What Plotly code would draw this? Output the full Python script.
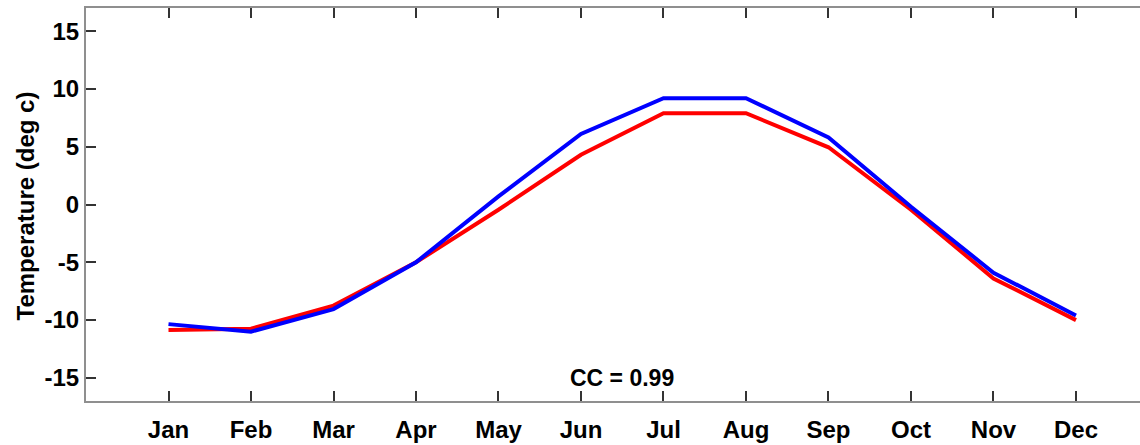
import plotly.graph_objects as go

# Monthly mean temperature, two series (deg C)
months = ["Jan", "Feb", "Mar", "Apr", "May", "Jun",
          "Jul", "Aug", "Sep", "Oct", "Nov", "Dec"]
series_red = [-10.85, -10.75, -8.75, -5.0, -0.45, 4.3,
              7.9, 7.9, 4.95, -0.45, -6.4, -10.0]
series_blue = [-10.35, -11.0, -9.05, -5.0, 0.7, 6.1,
               9.2, 9.2, 5.8, -0.2, -5.9, -9.6]
y_ticks = [-15, -10, -5, 0, 5, 10, 15]
cc_label = "CC = 0.99"

month_pos = list(range(1, len(months) + 1))
FONT = "Liberation Sans, Arial, Helvetica, sans-serif"
FS = 24

fig = go.Figure()
fig.add_trace(go.Scatter(x=month_pos, y=series_red, mode="lines",
                         line=dict(color="#ff0000", width=4),
                         showlegend=False))
fig.add_trace(go.Scatter(x=month_pos, y=series_blue, mode="lines",
                         line=dict(color="#0000ff", width=4),
                         showlegend=False))

fig.add_annotation(x=6.5, y=-15, xref="x", yref="y", text=f"<b>{cc_label}</b>",
                   showarrow=False, xanchor="center", yanchor="middle",
                   font=dict(family=FONT, size=FS - 1, color="black"))

fig.add_annotation(x=0, y=0.5, xref="paper", yref="paper",
                   text="<b>Temperature (deg c)</b>", textangle=-90,
                   showarrow=False, xanchor="center", yanchor="middle",
                   xshift=-61, yshift=-2,
                   font=dict(family=FONT, size=FS, color="black"))

fig.update_xaxes(
    range=[0, 12.776],
    tickmode="array", tickvals=month_pos,
    ticktext=[f"<b>{m}</b>" for m in months],
    ticks="inside", ticklen=10, tickwidth=1.5, tickcolor="#333333",
    showline=True, linecolor="#8f8f8f", linewidth=2, mirror="ticks",
    showgrid=False, zeroline=False,
    tickfont=dict(family=FONT, size=FS, color="black"),
    ticklabelstandoff=6,
)
fig.update_yaxes(
    range=[-17, 17],
    tickmode="array", tickvals=y_ticks,
    ticktext=[f"<b>{v}</b>" for v in y_ticks],
    ticks="inside", ticklen=10, tickwidth=1.5, tickcolor="#333333",
    showline=True, linecolor="#8f8f8f", linewidth=2, mirror=False,
    showgrid=False, zeroline=False,
    tickfont=dict(family=FONT, size=FS, color="black"),
)

fig.update_layout(
    width=1140, height=445,
    margin=dict(l=86, r=0, t=8, b=44),
    paper_bgcolor="white", plot_bgcolor="white",
    font=dict(family=FONT, size=FS, color="black"),
)

fig.write_html("out.html")
